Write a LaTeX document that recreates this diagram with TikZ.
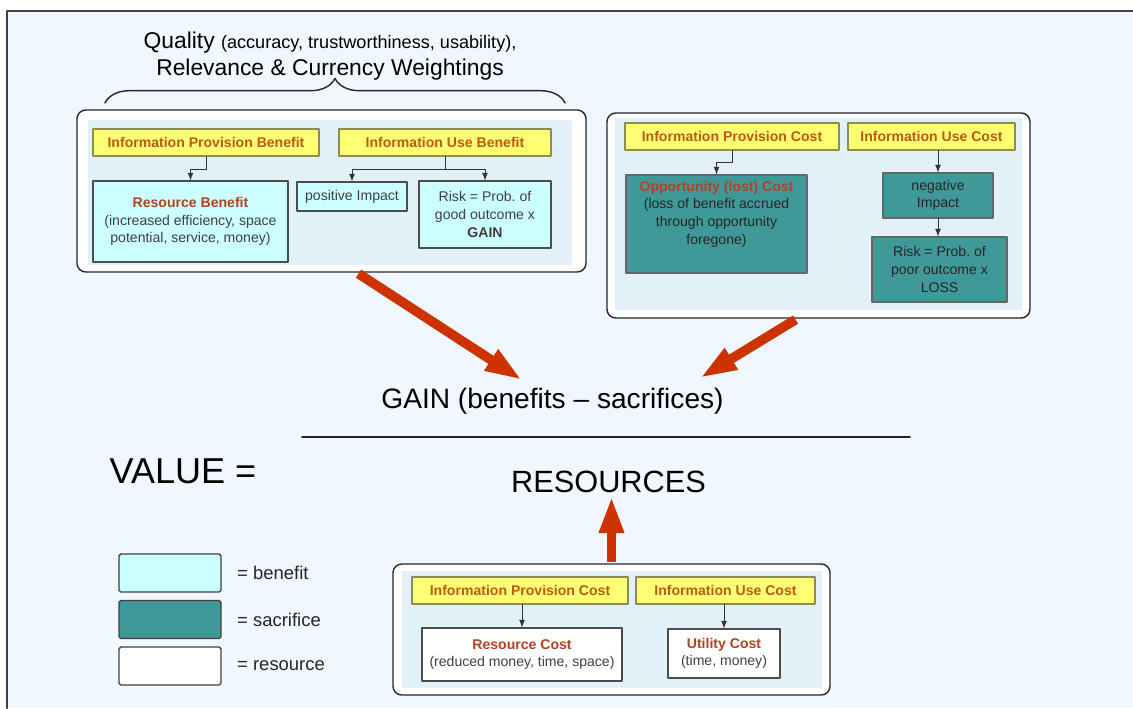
\documentclass[tikz,border=0pt]{standalone}
\usepackage{fontspec}
\setmainfont{Liberation Sans}
\usetikzlibrary{arrows.meta,decorations.pathreplacing}

\definecolor{pagebg}{RGB}{240,247,255}
\definecolor{panelblue}{RGB}{226,240,248}
\definecolor{benefitcyan}{RGB}{204,255,255}
\definecolor{sacrificeteal}{RGB}{64,153,153}
\definecolor{headeryellow}{RGB}{255,255,115}
\definecolor{headerline}{RGB}{140,140,90}
\definecolor{headertext}{RGB}{190,90,20}
\definecolor{titlered}{RGB}{180,65,35}
\definecolor{arrowred}{RGB}{204,51,0}

\newcommand{\hdrfont}{\fontsize{8}{10}\selectfont\bfseries}
\newcommand{\boxfont}{\fontsize{8}{10}\selectfont}
\newcommand{\boxtitle}[1]{\textcolor{titlered}{\bfseries #1}}

\tikzset{
  panel/.style={draw=black!85,line width=0.8pt,rounded corners=5pt,fill=white},
  headbox/.style={draw=headerline,line width=0.6pt,fill=headeryellow,
    text=headertext,font=\hdrfont,inner sep=0pt,minimum height=0.54cm},
  itembox/.style={draw=black!70,line width=0.6pt,align=center,
    font=\boxfont,text=black!75,inner sep=0pt},
  benefit/.style={itembox,fill=benefitcyan},
  sacrifice/.style={itembox,fill=sacrificeteal,draw=black!60,text=black!85},
  resource/.style={itembox,fill=white},
  legendbox/.style={draw=black!75,line width=0.8pt,rounded corners=1pt,
    minimum width=2.04cm,minimum height=0.76cm},
  link/.style={-latex,line width=0.5pt,black!80},
  bigarrow/.style={-{Triangle[length=21pt,width=13pt]},line width=5.5pt,
    line cap=butt,arrowred},
}

\begin{document}
\begin{tikzpicture}[x=1cm,y=1cm,line cap=round,line join=round]
        \useasboundingbox (0,0) rectangle (22.66,14.16);
        % Page background and frame
        \fill[pagebg] (0.14,0) rectangle (22.66,13.94);
        \draw[black!75,line width=1.3pt] (0.14,0) -- (0.14,13.94) -- (22.66,13.94);

        % Weightings brace
        \node[align=center,font=\fontsize{13}{15}\selectfont] (quality) at (6.60,13.04)
            {Quality {\fontsize{10.3}{15}\selectfont(accuracy, trustworthiness, usability),}\\
             Relevance \& Currency Weightings};
        \draw[black!85,line width=0.8pt,decorate,decoration={brace,amplitude=14pt}]
            (2.10,12.10) -- (11.30,12.10);

        %----------------------------------------------------------
        % Benefits
        \node[panel,minimum width=10.18cm,minimum height=3.24cm] (benbox) at (6.63,10.34) {};
        \fill[panelblue] (1.76,8.86) rectangle (11.44,11.76);

        \node[headbox,minimum width=4.52cm] (ipb) at (4.12,11.31) {Information Provision Benefit};
        \node[headbox,minimum width=4.24cm] (iub) at (8.90,11.31) {Information Use Benefit};
        \node[benefit,minimum width=3.90cm,minimum height=1.62cm] (rb) at (3.81,9.73)
            {\boxtitle{Resource Benefit}\\(increased efficiency, space\\potential, service, money)};
        \node[benefit,minimum width=2.20cm,minimum height=0.58cm] (pi) at (7.04,10.23)
            {positive Impact};
        \node[benefit,minimum width=2.64cm,minimum height=1.34cm] (rg) at (9.70,9.87)
            {Risk = Prob.\ of\\good outcome x\\\textbf{GAIN}};

        \draw[link] (ipb.south) -- ++(0,-0.26) -| (rb.north);
        \draw[link] (iub.south) -- ++(0,-0.26) coordinate (iubsplit) -| (pi.north);
        \draw[link] (iubsplit) -| (rg.north);

        %----------------------------------------------------------
        % Sacrifices
        \node[panel,minimum width=8.46cm,minimum height=4.10cm] (costbox) at (16.37,9.85) {};
        \fill[panelblue] (12.30,7.96) rectangle (20.44,11.80);

        \node[headbox,minimum width=4.28cm] (ipc) at (14.64,11.43) {Information Provision Cost};
        \node[headbox,minimum width=3.34cm] (iuc) at (18.63,11.43) {Information Use Cost};
        \node[sacrifice,minimum width=3.62cm,minimum height=1.96cm] (oc) at (14.33,9.68)
            {\boxtitle{Opportunity (lost) Cost}\\(loss of benefit accrued\\through opportunity\\foregone)\\\strut};
        \node[sacrifice,minimum width=2.20cm,minimum height=0.90cm] (ni) at (18.76,10.25)
            {negative\\Impact};
        \node[sacrifice,minimum width=2.70cm,minimum height=1.30cm] (rl) at (18.79,8.77)
            {Risk = Prob.\ of\\poor outcome x\\LOSS};

        \draw[link] (ipc.south) -- ++(0,-0.24) -| (oc.north);
        \draw[link] (ni.north |- iuc.south) -- (ni.north);
        \draw[link] (ni.south) -- (ni.south |- rl.north);

        %----------------------------------------------------------
        % Resources
        \node[panel,minimum width=8.74cm,minimum height=2.62cm] (resbox) at (12.23,1.57) {};
        \fill[panelblue] (8.04,0.40) rectangle (16.44,2.74);

        \node[headbox,minimum width=4.32cm] (bpc) at (10.40,2.35) {Information Provision Cost};
        \node[headbox,minimum width=3.58cm] (buc) at (14.51,2.35) {Information Use Cost};
        \node[resource,minimum width=4.00cm,minimum height=1.06cm] (rc) at (10.44,1.07)
            {\boxtitle{Resource Cost}\\(reduced money, time, space)};
        \node[resource,minimum width=2.24cm,minimum height=0.98cm] (uc) at (14.48,1.09)
            {\boxtitle{Utility Cost}\\(time, money)};

        \draw[link] (rc.north |- bpc.south) -- (rc.north);
        \draw[link] (uc.north |- buc.south) -- (uc.north);

        %----------------------------------------------------------
        % Value formula
        \node[anchor=base,font=\fontsize{20.5}{24}\selectfont] (value) at (3.66,4.50) {VALUE =};
        \node[anchor=base,inner sep=0pt,font=\fontsize{16}{19}\selectfont] (gain) at (11.05,6.00)
            {GAIN (benefits -- sacrifices)};
        \node[anchor=base,inner sep=0pt,font=\fontsize{17.5}{20}\selectfont] (resources) at (12.17,4.32)
            {RESOURCES};
        \draw[black!85,line width=1.1pt] (6.04,5.42) -- (18.20,5.42);

        \coordinate (gaintipA) at (10.44,6.56);
        \coordinate (gaintipB) at (14.00,6.60);
        \draw[bigarrow,shorten <=1pt] ([xshift=0.51cm]benbox.south) -- (gaintipA);
        \draw[bigarrow,shorten <=1pt] ([xshift=-0.43cm]costbox.south) -- (gaintipB);
        \draw[bigarrow,shorten <=1pt,shorten >=2pt] (resbox.north) -- (resbox.north |- resources.south);

        %----------------------------------------------------------
        % Legend
        \node[legendbox,fill=benefitcyan] (keyben) at (3.40,2.70) {};
        \node[legendbox,fill=sacrificeteal] (keysac) at (3.40,1.77) {};
        \node[legendbox,fill=white] (keyres) at (3.40,0.84) {};
        \node[anchor=west,font=\fontsize{10.5}{12}\selectfont,text=black!85] (keybentxt) at (4.62,2.70) {= benefit};
        \node[anchor=west,font=\fontsize{10.5}{12}\selectfont,text=black!85] (keysactxt) at (4.62,1.77) {= sacrifice};
        \node[anchor=west,font=\fontsize{10.5}{12}\selectfont,text=black!85] (keyrestxt) at (4.62,0.84) {= resource};
    \end{tikzpicture}
\end{document}
